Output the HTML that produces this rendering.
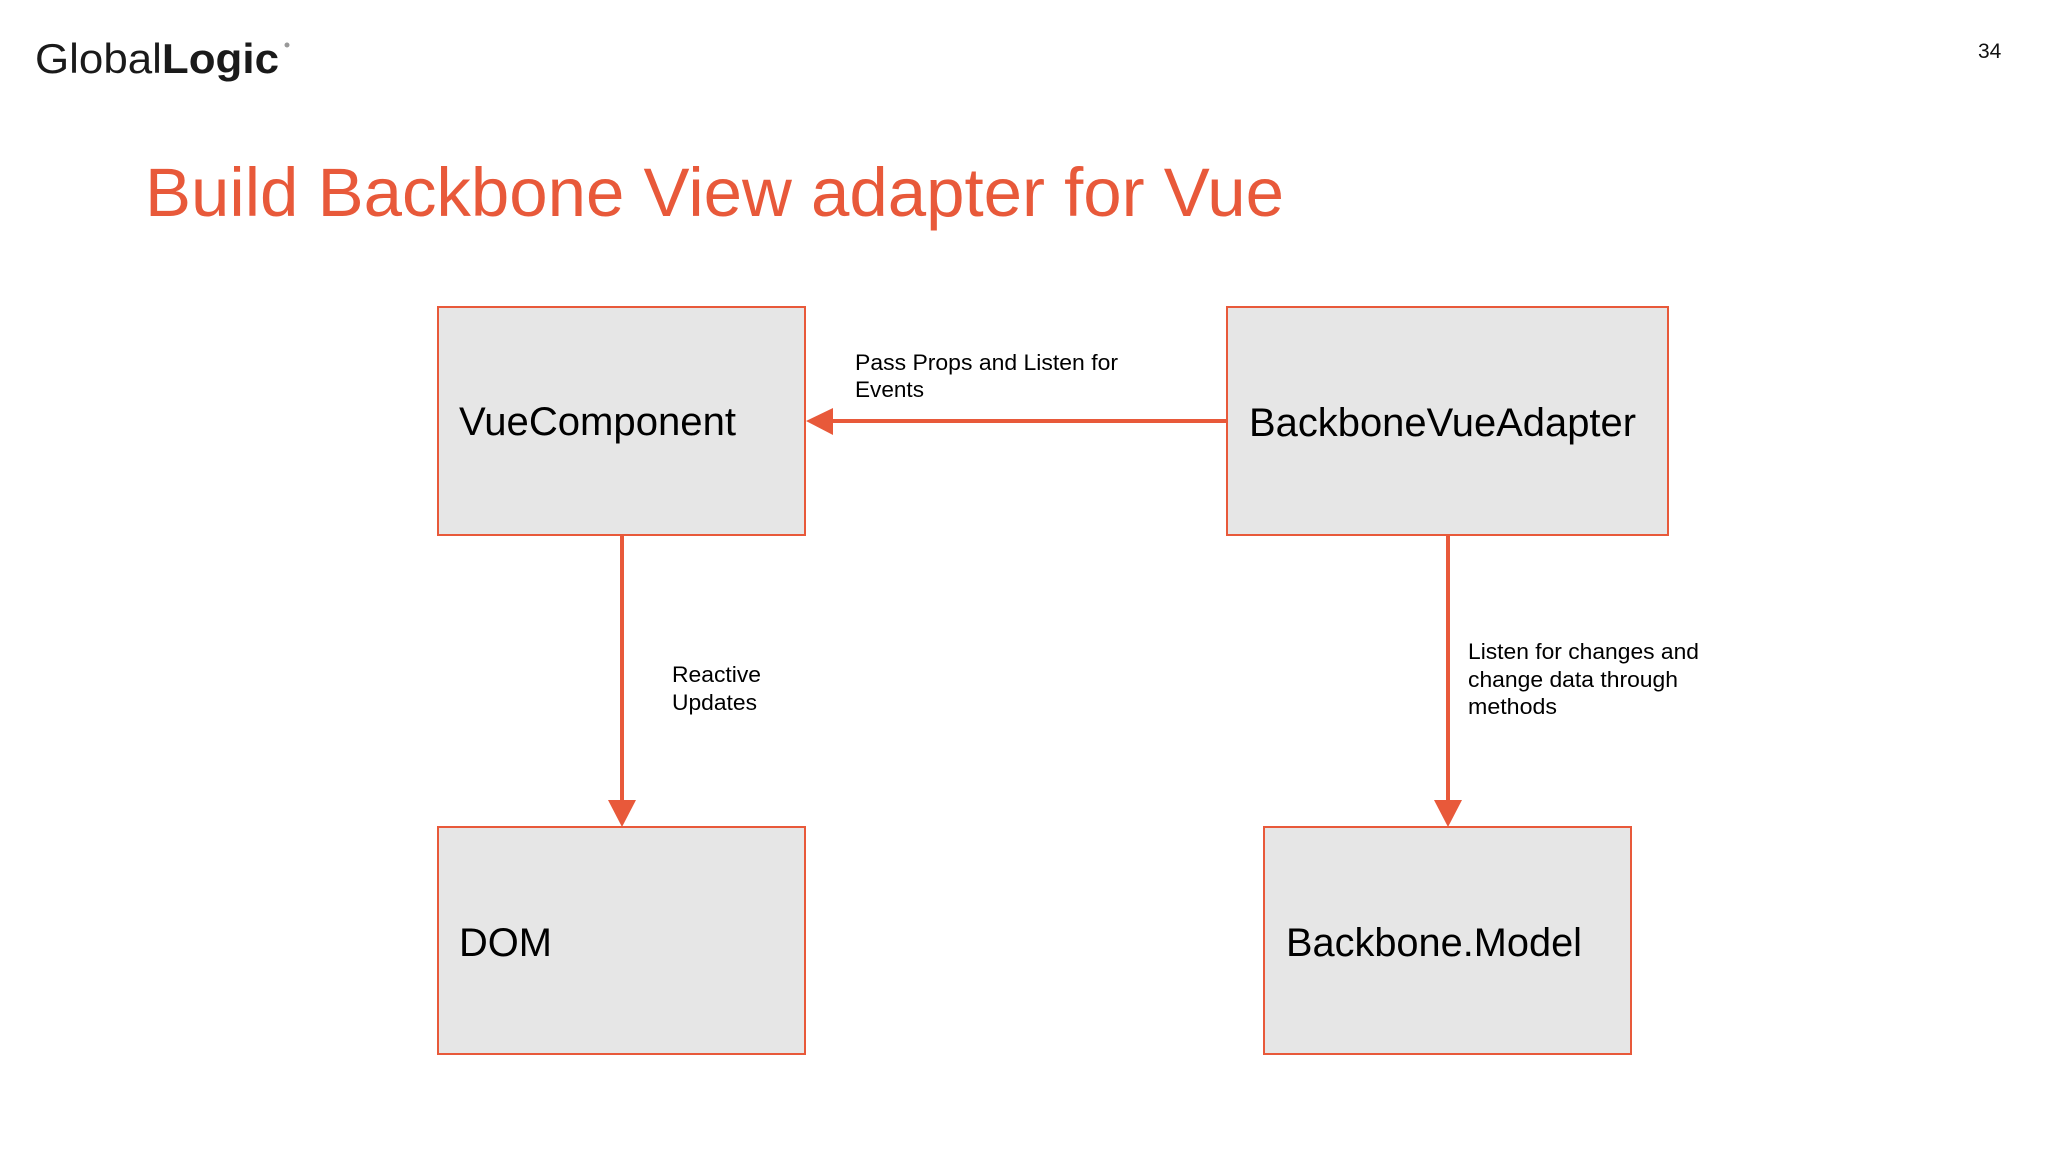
<!DOCTYPE html>
<html><head><meta charset="utf-8"><style>
html,body{margin:0;padding:0;background:#fff;}
svg{display:block;}
text{font-family:"Liberation Sans",Arial,sans-serif;}
</style></head><body>
<svg width="2048" height="1152" viewBox="0 0 2048 1152" xmlns="http://www.w3.org/2000/svg">
<rect width="2048" height="1152" fill="#fff"/>
<text x="35" y="73" font-size="42" fill="#1a1a1a" textLength="244" lengthAdjust="spacingAndGlyphs">Global<tspan font-weight="bold">Logic</tspan></text>
<circle cx="287" cy="45" r="2.5" fill="#999"/>
<text x="1978" y="58" font-size="21" fill="#111">34</text>
<text x="145" y="216" font-size="69" fill="#e8593a" textLength="1139" lengthAdjust="spacingAndGlyphs">Build Backbone View adapter for Vue</text>
<g fill="#e6e6e6" stroke="#e8593a" stroke-width="2">
<rect x="438" y="307" width="367" height="228"/>
<rect x="1227" y="307" width="441" height="228"/>
<rect x="438" y="827" width="367" height="227"/>
<rect x="1264" y="827" width="367" height="227"/>
</g>
<g font-size="40" fill="#000">
<text x="459" y="435" textLength="277" lengthAdjust="spacingAndGlyphs">VueComponent</text>
<text x="1249" y="436" textLength="387" lengthAdjust="spacingAndGlyphs">BackboneVueAdapter</text>
<text x="459" y="956" textLength="93" lengthAdjust="spacingAndGlyphs">DOM</text>
<text x="1286" y="956" textLength="296" lengthAdjust="spacingAndGlyphs">Backbone.Model</text>
</g>
<g stroke="#e8593a" stroke-width="4" fill="none">
<line x1="1227" y1="421" x2="830" y2="421"/>
<line x1="622" y1="535" x2="622" y2="803"/>
<line x1="1448" y1="535" x2="1448" y2="803"/>
</g>
<g fill="#e8593a">
<polygon points="806,421 833,408 833,435"/>
<polygon points="622,827 608,800 636,800"/>
<polygon points="1448,827 1434,800 1462,800"/>
</g>
<g font-size="22" fill="#000">
<text x="855" y="370" textLength="263" lengthAdjust="spacingAndGlyphs">Pass Props and Listen for</text>
<text x="855" y="397" textLength="69" lengthAdjust="spacingAndGlyphs">Events</text>
<text x="672" y="682" textLength="89" lengthAdjust="spacingAndGlyphs">Reactive</text>
<text x="672" y="710" textLength="85" lengthAdjust="spacingAndGlyphs">Updates</text>
<text x="1468" y="659" textLength="231" lengthAdjust="spacingAndGlyphs">Listen for changes and</text>
<text x="1468" y="687" textLength="210" lengthAdjust="spacingAndGlyphs">change data through</text>
<text x="1468" y="714" textLength="89" lengthAdjust="spacingAndGlyphs">methods</text>
</g>
</svg>
</body></html>
